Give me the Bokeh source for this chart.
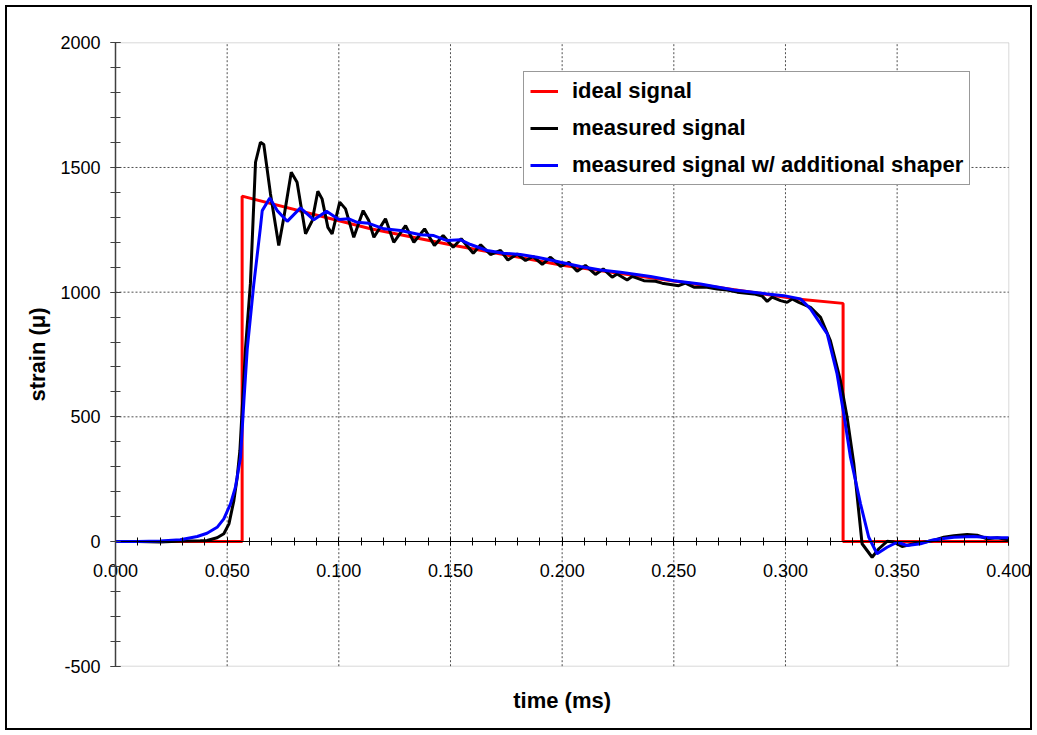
from bokeh.plotting import figure
from bokeh.models import (Range1d, SingleIntervalTicker, NumeralTickFormatter,
                          Legend, LegendItem, Label, LinearAxis, BoxAnnotation)
from bokeh.embed import file_html
from bokeh.resources import INLINE

# ---------------- data (time in ms, strain in micro-strain) ----------------
ideal_t = [0.000, 0.0567, 0.0567, 0.1142, 0.150, 0.200, 0.250, 0.300, 0.3052, 0.3258, 0.3258, 0.400]
ideal_v = [0, 0, 1385, 1254, 1190, 1108, 1045, 980, 973, 955, 0, 0]

meas_t = [0.000, 0.010, 0.020, 0.030, 0.038, 0.041, 0.0455, 0.0485, 0.0508, 0.053, 0.0545,
          0.0557, 0.0567, 0.0582, 0.0604, 0.0627, 0.0649, 0.0664, 0.0694, 0.0731, 0.0754,
          0.0787, 0.0813, 0.0851, 0.0881, 0.0906, 0.0925, 0.0951, 0.0970, 0.1004, 0.1030,
          0.1067, 0.1109, 0.1134, 0.1157, 0.1209, 0.1246, 0.1299, 0.1336, 0.1384, 0.1428,
          0.1467, 0.1512, 0.1548, 0.1602, 0.1635, 0.1679, 0.1724, 0.1757, 0.1799, 0.1836,
          0.1870, 0.1911, 0.1948, 0.1993, 0.2030, 0.2067, 0.2104, 0.2149, 0.2184, 0.2224,
          0.2246, 0.2291, 0.2313, 0.2366, 0.2418, 0.2448, 0.2522, 0.2552, 0.2590, 0.2649,
          0.2694, 0.2739, 0.2784, 0.2858, 0.2896, 0.2918, 0.2940, 0.2978, 0.3007, 0.3030,
          0.3060, 0.3112, 0.3157, 0.3201, 0.3246, 0.3276, 0.3306, 0.3343, 0.3388, 0.3418,
          0.3455, 0.3485, 0.3522, 0.3575, 0.3664, 0.3709, 0.3754, 0.3813, 0.3858, 0.3903,
          0.3948, 0.4000]
meas_v = [0, 0, -2, 2, 3, 4, 15, 31, 71, 164, 258,
          365, 525, 773, 1033, 1521, 1601, 1592, 1394, 1187, 1300,
          1481, 1441, 1234, 1287, 1405, 1374, 1260, 1234, 1361, 1334,
          1220, 1327, 1287, 1220, 1294, 1200, 1267, 1200, 1254, 1187,
          1227, 1180, 1214, 1156, 1190, 1151, 1167, 1129, 1153, 1127,
          1143, 1111, 1140, 1103, 1120, 1084, 1107, 1071, 1093, 1060,
          1073, 1049, 1063, 1046, 1044, 1036, 1026, 1036, 1020, 1020,
          1013, 1009, 1000, 993, 984, 963, 980, 966, 959, 973,
          959, 939, 899, 806, 646, 498, 312, -9, -63, -29,
          1, -2, -20, -9, 4, 17, 23, 28, 25, 11,
          15, 7]

shaper_t = [0.000, 0.010, 0.020, 0.029, 0.0366, 0.041, 0.0455, 0.0485, 0.0515, 0.0537, 0.056,
            0.0575, 0.059, 0.0619, 0.0649, 0.0657, 0.0691, 0.0724, 0.0769, 0.0828, 0.0888,
            0.0945, 0.1000, 0.1045, 0.1082, 0.1134, 0.1202, 0.1276, 0.1366, 0.1425, 0.1485,
            0.1545, 0.1590, 0.1664, 0.1739, 0.1813, 0.1888, 0.1948, 0.1993, 0.2082, 0.2172,
            0.2261, 0.2396, 0.2500, 0.2619, 0.2769, 0.2918, 0.2993, 0.3067, 0.3112, 0.3187,
            0.3231, 0.3261, 0.3291, 0.3336, 0.3373, 0.3410, 0.3455, 0.3500, 0.3545, 0.3605,
            0.3664, 0.3754, 0.3843, 0.3918, 0.4000]
shaper_v = [0, 0, 2, 7, 20, 33, 57, 91, 151, 218, 338,
            565, 773, 1030, 1260, 1327, 1378, 1327, 1284, 1338, 1290,
            1324, 1291, 1294, 1280, 1276, 1254, 1247, 1230, 1227, 1207,
            1210, 1191, 1167, 1156, 1151, 1140, 1129, 1120, 1103, 1089,
            1080, 1063, 1046, 1033, 1009, 993, 986, 973, 933, 833,
            672, 512, 338, 151, 17, -49, -23, -3, -16, -9,
            7, 17, 20, 15, 15]

series_names = ["ideal signal", "measured signal", "measured signal w/ additional shaper"]
series_colors = ["#FF0000", "#000000", "#0000FF"]

x_bounds = (0.0, 0.4)
y_bounds = (-500, 2000)
x_grid_values = [0.05, 0.10, 0.15, 0.20, 0.25, 0.30, 0.35]
y_grid_values = [500, 1000, 1500]

x_label = "time (ms)"
y_label = "strain (\u03bc)"

FONT = "Liberation Sans"

# ---------------- figure ----------------
# The frame covers the whole canvas; the plot area [0,0.4]x[-500,2000] sits at
# pixels x 115..1008, y 42..665 inside it.
px_per_x = (1008.3 - 115.0) / (x_bounds[1] - x_bounds[0])
px_per_y = (665.7 - 42.3) / (y_bounds[1] - y_bounds[0])
x_range = Range1d(x_bounds[0] - 115.0 / px_per_x, x_bounds[1] + (1037 - 1008.3) / px_per_x)
y_range = Range1d(y_bounds[0] - (735 - 665.7) / px_per_y, y_bounds[1] + 42.3 / px_per_y)

p = figure(width=1037, height=735, output_backend="svg", toolbar_location=None,
           x_range=x_range, y_range=y_range,
           x_axis_location=None, y_axis_location=None)
p.min_border_left = 0
p.min_border_right = 0
p.min_border_top = 0
p.min_border_bottom = 0
p.background_fill_color = "white"
p.border_fill_color = "white"
p.outline_line_color = None
p.xgrid.visible = False
p.ygrid.visible = False

# dotted grid inside the plot area
p.segment(x0=x_grid_values, x1=x_grid_values, y0=[y_bounds[0]] * len(x_grid_values),
          y1=[y_bounds[1]] * len(x_grid_values), line_color="#505050",
          line_dash="2 2", line_width=1)
p.segment(x0=[x_bounds[0]] * len(y_grid_values), x1=[x_bounds[1]] * len(y_grid_values),
          y0=y_grid_values, y1=y_grid_values, line_color="#505050",
          line_dash="2 2", line_width=1)

# plot area border
p.add_layout(BoxAnnotation(left=x_bounds[0], right=x_bounds[1], bottom=y_bounds[0],
                           top=y_bounds[1], fill_alpha=0, line_color="#808080",
                           line_width=1, level="underlay"))

r_ideal = p.line(ideal_t, ideal_v, line_color=series_colors[0], line_width=3)
r_meas = p.line(meas_t, meas_v, line_color=series_colors[1], line_width=3)
r_shaper = p.line(shaper_t, shaper_v, line_color=series_colors[2], line_width=3)

# x axis crossing at y = 0
xa = LinearAxis(fixed_location=0, bounds=x_bounds)
xa.ticker = SingleIntervalTicker(interval=0.05, num_minor_ticks=5)
xa.formatter = NumeralTickFormatter(format="0.000")
xa.axis_line_color = "black"
xa.axis_line_width = 1
xa.major_tick_in = 4
xa.major_tick_out = 4
xa.minor_tick_in = 4
xa.minor_tick_out = 4
xa.major_tick_line_color = "black"
xa.minor_tick_line_color = "black"
xa.major_label_standoff = 18
xa.major_label_text_font = FONT
xa.major_label_text_font_size = "18px"
xa.major_label_text_color = "black"
p.add_layout(xa, "below")

ya = LinearAxis(fixed_location=0, bounds=y_bounds)
ya.ticker = SingleIntervalTicker(interval=500, num_minor_ticks=5)
ya.formatter = NumeralTickFormatter(format="0")
ya.axis_line_color = "#404040"
ya.axis_line_width = 1.5
ya.major_tick_in = 5
ya.major_tick_out = 5
ya.minor_tick_in = 5
ya.minor_tick_out = 5
ya.major_tick_line_color = "#404040"
ya.minor_tick_line_color = "#404040"
ya.major_label_standoff = 10
ya.major_label_text_font = FONT
ya.major_label_text_font_size = "18px"
ya.major_label_text_color = "black"
ya.axis_label = y_label
ya.axis_label_text_font = FONT
ya.axis_label_text_font_size = "22px"
ya.axis_label_text_font_style = "bold"
ya.axis_label_text_color = "black"
ya.axis_label_standoff = 7
p.add_layout(ya, "left")

legend = Legend(items=[LegendItem(label=series_names[0], renderers=[r_ideal]),
                       LegendItem(label=series_names[1], renderers=[r_meas]),
                       LegendItem(label=series_names[2], renderers=[r_shaper])],
                location=(523, 550))
legend.label_text_font = FONT
legend.label_text_font_size = "22px"
legend.label_text_font_style = "bold"
legend.label_text_color = "black"
legend.label_height = 24
legend.glyph_height = 24
legend.glyph_width = 28
legend.label_standoff = 14
legend.spacing = 11
legend.padding = 6
legend.margin = 0
legend.border_line_color = "#333333"
legend.border_line_width = 1
legend.background_fill_color = "white"
legend.background_fill_alpha = 1
p.add_layout(legend)

xl = Label(x=(x_bounds[0] + x_bounds[1]) / 2, y=y_bounds[0] - (700 - 665.7) / px_per_y,
           text=x_label, text_align="center", text_baseline="middle",
           text_font=FONT, text_font_size="22px", text_font_style="bold",
           text_color="black")
p.add_layout(xl)

# outer chart border (drawn over the canvas by a pseudo element)
p.stylesheets = [
    ":host { position: relative; }"
    ":host::after { content: ''; position: absolute; left: 5px; top: 5px; "
    "width: 1023px; height: 721px; border: 2px solid black; "
    "pointer-events: none; z-index: 1000; box-sizing: content-box; }"
]

open("out.html", "w").write(file_html(p, INLINE))
